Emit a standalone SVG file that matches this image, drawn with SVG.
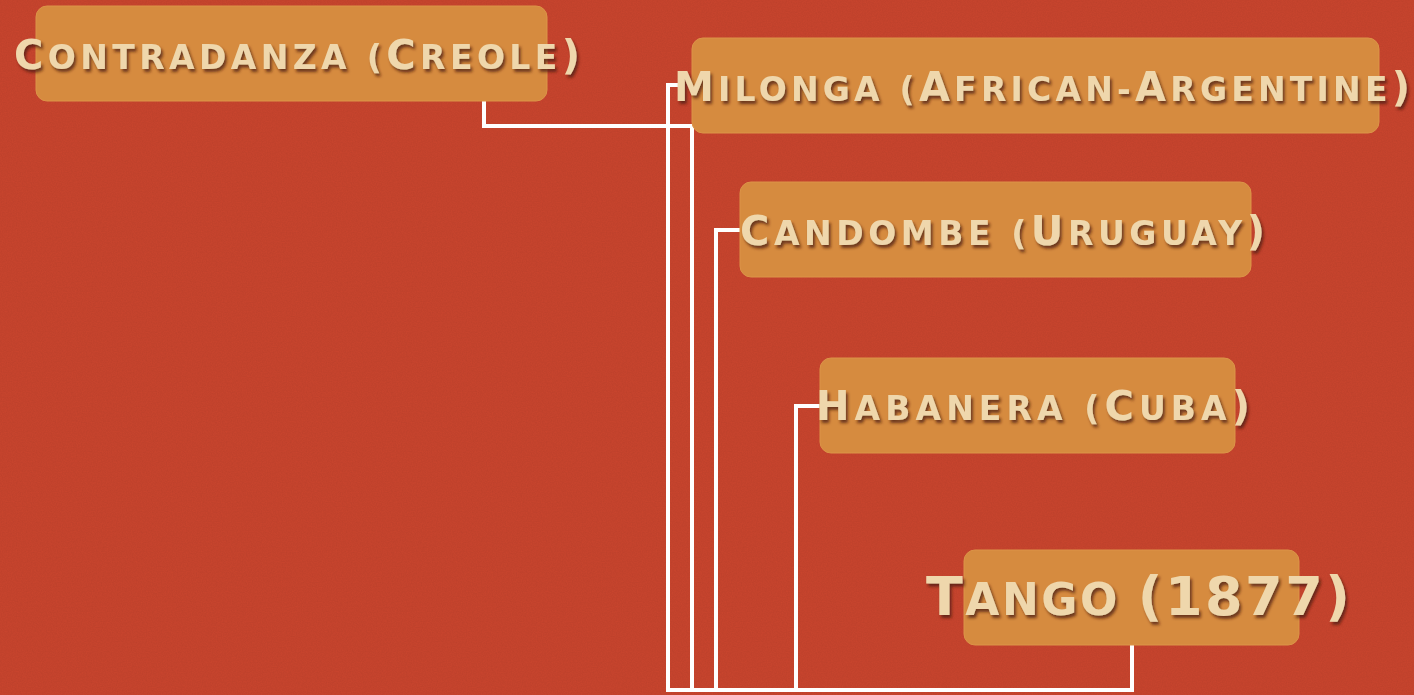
<svg xmlns="http://www.w3.org/2000/svg" width="1414" height="695" viewBox="0 0 1414 695">
<defs>
<filter id="shadow" x="-10%" y="-30%" width="120%" height="160%">
<feDropShadow dx="2" dy="3" stdDeviation="1.5" flood-color="#4a1e0a" flood-opacity="0.75"/>
</filter>
<filter id="noise" x="0" y="0" width="100%" height="100%">
<feTurbulence type="fractalNoise" baseFrequency="0.8" numOctaves="2" seed="3"/>
<feColorMatrix type="matrix" values="0 0 0 0 0  0 0 0 0 0  0 0 0 0 0  0 0 0 0.07 0"/>
</filter>
<style>
.box{fill:#d68b3f;stroke:#dc9448;stroke-width:1}
.lbl{font-family:"DejaVu Sans","Liberation Sans",sans-serif;font-weight:bold;fill:#efd7ac;filter:url(#shadow)}
.cap{font-size:40px}
.sc{font-size:33px}
.tcap{font-size:54px}
.tsc{font-size:44px}
.conn{fill:none;stroke:#ffffff;stroke-width:4}
</style>
</defs>
<rect width="1414" height="695" fill="#ca452e"/>
<rect width="1414" height="695" filter="url(#noise)"/>

<g id="connectors">
<polyline class="conn" points="484,101 484,126 692,126 692,690"/>
<polyline class="conn" points="682,85 668,85 668,690"/>
<polyline class="conn" points="742,230 716,230 716,690"/>
<polyline class="conn" points="822,406 796,406 796,690"/>
<polyline class="conn" points="1132,645 1132,690 666,690"/>
</g>

<g id="contradanza">
<rect class="box" x="36" y="6" width="511" height="95" rx="11"/>
<text class="lbl" x="14" y="69" textLength="566" lengthAdjust="spacing"><tspan class="cap">C</tspan><tspan class="sc">ONTRADANZA (</tspan><tspan class="cap">C</tspan><tspan class="sc">REOLE</tspan><tspan class="cap">)</tspan></text>
</g>

<g id="milonga">
<rect class="box" x="692" y="38" width="687" height="95" rx="11"/>
<text class="lbl" x="674" y="101" textLength="736" lengthAdjust="spacing"><tspan class="cap">M</tspan><tspan class="sc">ILONGA (</tspan><tspan class="cap">A</tspan><tspan class="sc">FRICAN-</tspan><tspan class="cap">A</tspan><tspan class="sc">RGENTINE</tspan><tspan class="cap">)</tspan></text>
</g>

<g id="candombe">
<rect class="box" x="740" y="182" width="511" height="95" rx="11"/>
<text class="lbl" x="740" y="245" textLength="525" lengthAdjust="spacing"><tspan class="cap">C</tspan><tspan class="sc">ANDOMBE (</tspan><tspan class="cap">U</tspan><tspan class="sc">RUGUAY</tspan><tspan class="cap">)</tspan></text>
</g>

<g id="habanera">
<rect class="box" x="820" y="358" width="415" height="95" rx="11"/>
<text class="lbl" x="816" y="420" textLength="434" lengthAdjust="spacing"><tspan class="cap">H</tspan><tspan class="sc">ABANERA (</tspan><tspan class="cap">C</tspan><tspan class="sc">UBA</tspan><tspan class="cap">)</tspan></text>
</g>

<g id="tango">
<rect class="box" x="964" y="550" width="335" height="95" rx="11"/>
<text class="lbl" x="926" y="615" textLength="424" lengthAdjust="spacing"><tspan class="tcap">T</tspan><tspan class="tsc">ANGO </tspan><tspan class="tcap">(1877)</tspan></text>
</g>
</svg>
